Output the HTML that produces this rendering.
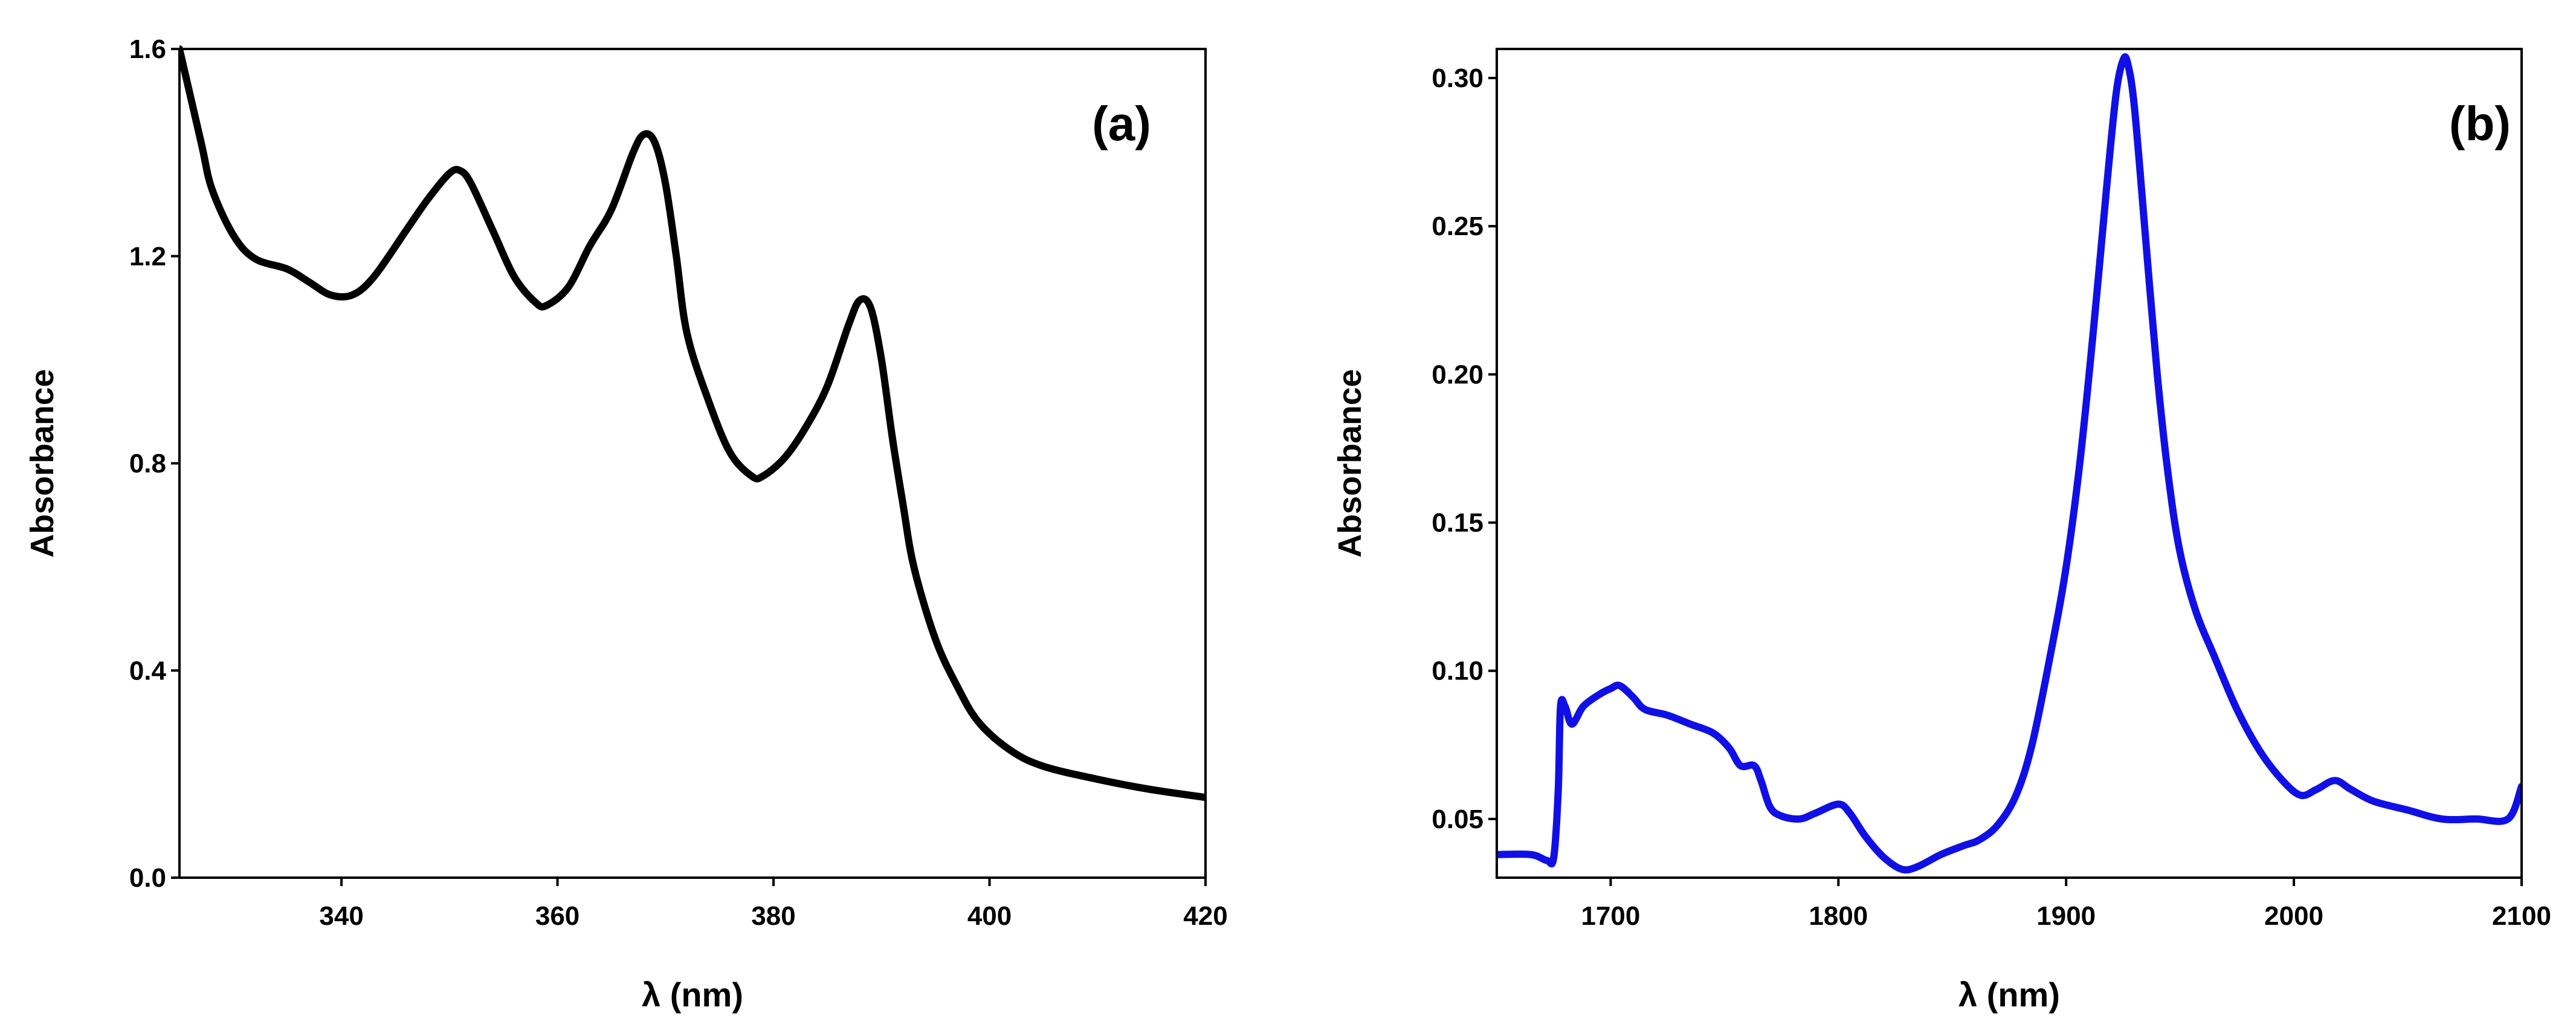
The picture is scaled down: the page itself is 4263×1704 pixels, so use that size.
<!DOCTYPE html>
<html><head><meta charset="utf-8"><style>
html,body{margin:0;padding:0;background:#fff;}
svg{display:block;font-family:"Liberation Sans",Arial,sans-serif;}
</style></head><body>
<svg id="fig" width="4263" height="1704" viewBox="0 0 4263 1704" xmlns="http://www.w3.org/2000/svg"></svg>
<script>
const aX=[325,327,328,330,332,335,337,339,341,343,346,348,350,351,352,354,356,358,359,361,363,365,367,368,369,370,371,372,374,376,378,379,381,383,385,387,388,389,390,391,392,393,395,397,399,402,405,410,415,420];
const aY=[1.6,1.42,1.33,1.24,1.195,1.175,1.15,1.125,1.125,1.16,1.25,1.31,1.36,1.365,1.34,1.25,1.16,1.11,1.105,1.14,1.22,1.29,1.40,1.435,1.42,1.34,1.20,1.05,0.92,0.82,0.775,0.775,0.81,0.87,0.95,1.07,1.115,1.10,1.00,0.85,0.72,0.60,0.46,0.37,0.30,0.245,0.215,0.19,0.17,0.155];
const aXTicks=[340,360,380,400,420];
const aYTicks=[0.0,0.4,0.8,1.2,1.6];
const aYLabels=["0.0","0.4","0.8","1.2","1.6"];
const bX=[1650,1665,1672,1675,1677,1678,1680,1683,1688,1695,1700,1704,1710,1715,1725,1735,1745,1752,1757,1763,1766,1770,1775,1783,1790,1800,1805,1812,1820,1828,1835,1845,1855,1862,1870,1878,1885,1893,1900,1906,1912,1918,1922,1925,1927,1930,1935,1940,1945,1950,1957,1965,1975,1985,1995,2003,2010,2018,2025,2035,2050,2065,2080,2094,2100];
const bY=[0.038,0.038,0.036,0.037,0.06,0.088,0.088,0.082,0.088,0.092,0.094,0.095,0.091,0.087,0.085,0.082,0.079,0.074,0.068,0.068,0.063,0.054,0.051,0.050,0.052,0.055,0.052,0.044,0.037,0.033,0.034,0.038,0.041,0.043,0.048,0.058,0.075,0.105,0.135,0.170,0.215,0.265,0.295,0.306,0.305,0.29,0.245,0.20,0.165,0.14,0.12,0.105,0.087,0.073,0.063,0.058,0.060,0.063,0.060,0.056,0.053,0.050,0.050,0.050,0.061];
const bXTicks=[1700,1800,1900,2000,2100];
const bYTicks=[0.05,0.10,0.15,0.20,0.25,0.30];
const bYLabels=["0.05","0.10","0.15","0.20","0.25","0.30"];

const NS="http://www.w3.org/2000/svg";
const svg=document.getElementById('fig');
function mk(tag,attrs,parent){const e=document.createElementNS(NS,tag);for(const k in attrs)e.setAttribute(k,attrs[k]);(parent||svg).appendChild(e);return e;}
function smooth(P){
  let d='M'+P[0][0].toFixed(1)+','+P[0][1].toFixed(1);
  for(let i=0;i<P.length-1;i++){
    const p0=P[Math.max(0,i-1)],p1=P[i],p2=P[i+1],p3=P[Math.min(P.length-1,i+2)];
    const c1x=p1[0]+(p2[0]-p0[0])/6,c1y=p1[1]+(p2[1]-p0[1])/6;
    const c2x=p2[0]-(p3[0]-p1[0])/6,c2y=p2[1]-(p3[1]-p1[1])/6;
    d+=' C'+c1x.toFixed(1)+','+c1y.toFixed(1)+' '+c2x.toFixed(1)+','+c2y.toFixed(1)+' '+p2[0].toFixed(1)+','+p2[1].toFixed(1);
  }
  return d;
}
function panel(o){
  const g=mk('g',{});
  
  
  const sx=v=>o.L+(v-o.x0)/(o.x1-o.x0)*(o.R-o.L);
  const sy=v=>o.B-(v-o.y0)/(o.y1-o.y0)*(o.B-o.T);
  const P=o.xs.map((x,i)=>[sx(x),sy(o.ys[i])]);
  const cp=mk('clipPath',{id:o.name+'-clip'},g);
  mk('rect',{x:o.L,y:o.T-10,width:o.R-o.L,height:o.B-o.T+10},cp);
  const line=mk('path',{d:smooth(P),fill:'none',stroke:o.color,'stroke-width':o.lw,'stroke-linejoin':'round','stroke-linecap':'round','clip-path':'url(#'+o.name+'-clip)'},g);
  
  
  const fr=mk('rect',{x:o.L,y:o.T,width:o.R-o.L,height:o.B-o.T,fill:'none',stroke:'#000','stroke-width':4},g);
  
  
  o.xt.forEach(v=>{
    const x=sx(v);
    mk('line',{x1:x,y1:o.B,x2:x,y2:o.B+14,stroke:'#000','stroke-width':4},g);
    const t=mk('text',{x:x,y:o.B+78,'text-anchor':'middle','font-size':44,'font-weight':'bold',fill:'#000'},g);
    t.textContent=String(v);
    
    
  });
  o.yt.forEach((v,i)=>{
    const y=sy(v);
    mk('line',{x1:o.L-14,y1:y,x2:o.L,y2:y,stroke:'#000','stroke-width':4},g);
    const t=mk('text',{x:o.L-22,y:y+15,'text-anchor':'end','font-size':44,'font-weight':'bold',fill:'#000'},g);
    t.textContent=o.yl[i];
    
    
  });
  const xt=mk('text',{x:(o.L+o.R)/2,y:1665,'text-anchor':'middle','font-size':56,'font-weight':'bold',fill:'#000'},g);
  xt.textContent='λ (nm)';
  
  
  const yt=mk('text',{x:0,y:0,'text-anchor':'middle','font-size':54,'font-weight':'bold',fill:'#000',transform:'translate('+o.ytx+','+((o.T+o.B)/2)+') rotate(-90)'},g);
  yt.textContent='Absorbance';
  
  
  const lb=mk('text',{x:o.labX,y:232,'text-anchor':'middle','font-size':80,'font-weight':'bold',fill:'#000'},g);
  lb.textContent=o.label;
  
  
}
panel({name:'panel-a',L:297,R:1995,T:81,B:1452,x0:325,x1:420,y0:0,y1:1.6,xs:aX,ys:aY,xt:aXTicks,yt:aYTicks,yl:aYLabels,color:'#000',lw:12,ytx:88,labX:1856,label:'(a)'});
panel({name:'panel-b',L:2477,R:4173,T:81,B:1452,x0:1650,x1:2100,y0:0.0302,y1:0.3098,xs:bX,ys:bY,xt:bXTicks,yt:bYTicks,yl:bYLabels,color:'#1010e6',lw:12,ytx:2252,labX:4104,label:'(b)'});
</script>
</body></html>
